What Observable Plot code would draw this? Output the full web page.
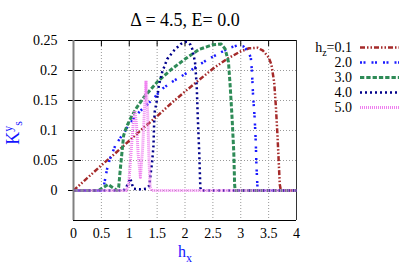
<!DOCTYPE html>
<html><head><meta charset="utf-8">
<script src="https://cdn.jsdelivr.net/npm/d3@7"></script>
<script src="https://cdn.jsdelivr.net/npm/@observablehq/plot@0.6"></script>
<style>body{margin:0;background:#fff} svg{display:block} svg text{font-family:"Liberation Serif","Times New Roman",Times,serif}</style>
</head><body><div id="chart"></div>
<script>
// ---- data ----
const titleText = "Δ = 4.5, E= 0.0";
const hzLabels = ["0.1", "2.0", "3.0", "4.0", "5.0"];
const hz01 = [[0,0],[0.25,0.021],[0.5,0.042],[0.75,0.062],[1,0.083],[1.25,0.104],[1.5,0.124],[1.75,0.145],[2,0.165],[2.25,0.184],[2.5,0.203],[2.75,0.219],[3,0.232],[3.15,0.237],[3.3,0.238],[3.4,0.233],[3.5,0.222],[3.55,0.21],[3.6,0.18],[3.63,0.14],[3.66,0.09],[3.68,0.05],[3.7,0.01],[3.72,0],[4,0]];
const hz20 = [[0,0],[0.5,0],[0.55,0.01],[0.6,0.035],[0.65,0.052],[0.75,0.075],[0.87,0.092],[1,0.11],[1.1,0.123],[1.2,0.133],[1.3,0.141],[1.45,0.155],[1.6,0.17],[1.75,0.18],[2,0.194],[2.2,0.206],[2.4,0.218],[2.6,0.228],[2.8,0.238],[2.95,0.242],[3.05,0.24],[3.12,0.233],[3.18,0.222],[3.2,0.2],[3.22,0.16],[3.25,0.12],[3.27,0.08],[3.28,0.045],[3.3,0.005],[3.31,0],[4,0]];
const hz30 = [[0,0],[0.45,0],[0.55,0.006],[0.62,0.01],[0.7,0.005],[0.78,0],[0.81,0.005],[0.84,0.036],[0.87,0.064],[0.9,0.092],[0.96,0.108],[1.05,0.125],[1.14,0.139],[1.26,0.155],[1.4,0.17],[1.525,0.183],[1.77,0.203],[2,0.219],[2.25,0.235],[2.5,0.243],[2.65,0.244],[2.72,0.236],[2.78,0.214],[2.81,0.175],[2.845,0.12],[2.875,0.064],[2.89,0.01],[2.9,0],[4,0]];
const hz40 = [[0,0],[0.9,0],[0.95,0.006],[0.99,0.014],[1.02,0.02],[1.05,0.01],[1.08,0.003],[1.2,0.002],[1.3,0.003],[1.36,0.008],[1.38,0.025],[1.41,0.047],[1.435,0.075],[1.445,0.108],[1.455,0.13],[1.5,0.153],[1.53,0.175],[1.59,0.197],[1.68,0.219],[1.8,0.233],[1.92,0.244],[2.03,0.248],[2.1,0.243],[2.13,0.236],[2.18,0.214],[2.21,0.175],[2.23,0.12],[2.255,0.064],[2.275,0.005],[2.29,0],[4,0]];
const hz50 = [[0,0],[0.95,0],[0.99,0.01],[1.03,0.06],[1.07,0.11],[1.1,0.133],[1.13,0.11],[1.16,0.06],[1.2,0.022],[1.24,0.07],[1.27,0.13],[1.3,0.183],[1.33,0.13],[1.355,0.05],[1.375,0.005],[1.4,0],[4,0]];
const xTicks = [0, 0.5, 1, 1.5, 2, 2.5, 3, 3.5, 4];
const xTickLabels = ["0", "0.5", "1", "1.5", "2", "2.5", "3", "3.5", "4"];
const yTicks = [0, 0.05, 0.1, 0.15, 0.2, 0.25];
const yTickLabels = ["0", "0.05", "0.1", "0.15", "0.2", "0.25"];

// ---- styles ----
const seriesData = [hz01, hz20, hz30, hz40, hz50];
const colors = ["#a52a2a", "#1a1aff", "#2e8b57", "#00008b", "#f080f0"];
const dashes = ["5,2,1.5,2,1.5,2", "2,1.5,2,6", "4.3,2", "2,3", "1,1"];
const widths = [2.5, 2.5, 3, 2.5, 3];
const labelBlue = "#1414ff";
const serif = "Liberation Serif, Times New Roman, Times, serif";

const marks = [
  Plot.gridX(xTicks.slice(1, -1), {stroke: "#999", strokeOpacity: 1, strokeDasharray: "1,2"}),
  Plot.gridY(yTicks.slice(0, -1), {stroke: "#999", strokeOpacity: 1, strokeDasharray: "1,2"}),
  Plot.tickY(yTicks, {stroke: "black", insetLeft: -5, insetRight: 215}),
  Plot.tickX(xTicks.slice(1, -1), {stroke: "black", insetBottom: 174}),
  Plot.ruleY([0.25], {stroke: "black"}),
  Plot.ruleY([-0.05], {stroke: "black"}),
  Plot.ruleX([4], {stroke: "#333"}),
  Plot.axisX(xTicks, {anchor: "bottom", tickSize: 0, tickPadding: 8, fontSize: 14, label: null,
    tickFormat: d => xTickLabels[xTicks.indexOf(d)]}),
  Plot.axisY(yTicks, {anchor: "left", tickSize: 0, tickPadding: 16, fontSize: 14, label: null,
    tickFormat: d => yTickLabels[yTicks.indexOf(d)]}),
  Plot.text([titleText], {frameAnchor: "top", dy: -20, fontSize: 18, lineAnchor: "middle"})
];
seriesData.forEach((s, i) => {
  marks.push(Plot.line(s, {x: d => d[0], y: d => d[1], stroke: colors[i], strokeWidth: widths[i],
    strokeDasharray: dashes[i], strokeLinecap: "butt", strokeLinejoin: "round"}));
});
marks.push(Plot.ruleX([0], {stroke: "#808080", strokeWidth: 2}));

const chart = Plot.plot({
  width: 415, height: 277,
  marginLeft: 73, marginRight: 119, marginTop: 40, marginBottom: 57,
  x: {domain: [0, 4]},
  y: {domain: [-0.05, 0.25]},
  style: {fontFamily: serif, fontSize: "14px", background: "white", color: "black"},
  marks
});
document.getElementById("chart").appendChild(chart);

const svg = d3.select(chart);
// y label K^y_s (rotated)
const yl = svg.append("text")
  .attr("transform", "translate(19,133) rotate(-90)")
  .attr("text-anchor", "middle").attr("fill", labelBlue)
  .attr("font-family", serif).attr("font-size", 18);
yl.append("tspan").text("K");
yl.append("tspan").attr("font-size", 12).attr("dy", -7).text("y");
yl.append("tspan").attr("font-size", 12).attr("dy", 10).text("s");
// x label h_x
const xl = svg.append("text")
  .attr("x", 185).attr("y", 256.5).attr("text-anchor", "middle").attr("fill", labelBlue)
  .attr("font-family", serif).attr("font-size", 16);
xl.append("tspan").text("h");
xl.append("tspan").attr("font-size", 12).attr("dy", 5).text("x");
// legend
hzLabels.forEach((lab, i) => {
  const yb = 51.5 + 15 * i;
  const t = svg.append("text").attr("x", 352).attr("y", yb).attr("text-anchor", "end")
    .attr("font-family", serif).attr("font-size", 14).attr("fill", "black");
  if (i === 0) {
    t.append("tspan").text("h");
    t.append("tspan").attr("font-size", 10).attr("dy", 4).text("z");
    t.append("tspan").attr("dy", -4).text("=" + lab);
  } else {
    t.text(lab);
  }
  svg.append("line").attr("x1", 360).attr("x2", 399).attr("y1", yb - 4).attr("y2", yb - 4)
    .attr("stroke", colors[i]).attr("stroke-width", widths[i]).attr("stroke-dasharray", dashes[i]);
});
</script></body></html>
